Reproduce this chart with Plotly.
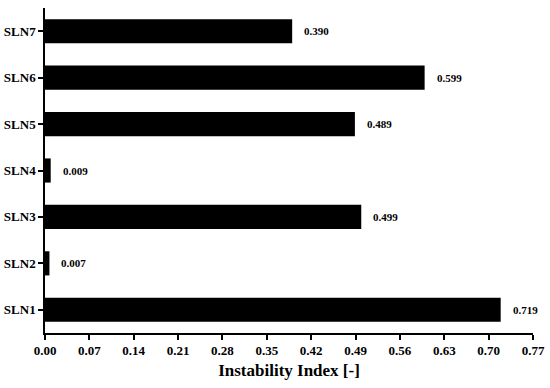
import plotly.graph_objects as go

categories = ["SLN1", "SLN2", "SLN3", "SLN4", "SLN5", "SLN6", "SLN7"]
values = [0.719, 0.007, 0.499, 0.009, 0.489, 0.599, 0.390]
value_labels = ["0.719", "0.007", "0.499", "0.009", "0.489", "0.599", "0.390"]
x_ticks = [0.00, 0.07, 0.14, 0.21, 0.28, 0.35, 0.42, 0.49, 0.56, 0.63, 0.70, 0.77]
x_tick_labels = ["%.2f" % t for t in x_ticks]

FONT = "Liberation Serif"

fig = go.Figure(go.Bar(
    x=values, y=categories, orientation="h",
    marker=dict(color="black", line=dict(width=0)),
    width=0.52,
))

for c, v, lab in zip(categories, values, value_labels):
    fig.add_annotation(x=v, y=c, text="<b>%s</b>" % lab, showarrow=False,
                       xanchor="left", yanchor="middle", xshift=10,
                       font=dict(family=FONT, size=11, color="black"))

fig.update_layout(
    width=550, height=388,
    margin=dict(l=45, r=17, t=8, b=55, autoexpand=False),
    plot_bgcolor="white", paper_bgcolor="white",
    showlegend=False,
    font=dict(family=FONT, color="black"),
    xaxis=dict(
        range=[0, 0.77], tickvals=x_ticks, ticktext=["<b>%s</b>" % t for t in x_tick_labels],
        showgrid=False, zeroline=False, showline=True, linecolor="black", linewidth=1.5,
        ticks="outside", ticklen=5, tickwidth=1.5, tickcolor="black", automargin=False,
        tickfont=dict(family=FONT, size=13, color="black"),
        title=dict(text="<b>Instability Index [-]</b>", font=dict(family=FONT, size=17, color="black"), standoff=7),
    ),
    yaxis=dict(
        range=[-0.5, 6.5], categoryorder="array", categoryarray=categories,
        tickvals=categories, ticktext=["<b>%s</b>" % c for c in categories],
        showgrid=False, zeroline=False, showline=True, linecolor="black", linewidth=1.5,
        ticks="outside", ticklen=5, tickwidth=1.5, tickcolor="black", automargin=False,
        tickfont=dict(family=FONT, size=13, color="black"),
    ),
)

fig.write_html("out.html", config={"displayModeBar": False},
               post_script="document.body.style.margin='0';document.body.style.overflow='hidden';")
